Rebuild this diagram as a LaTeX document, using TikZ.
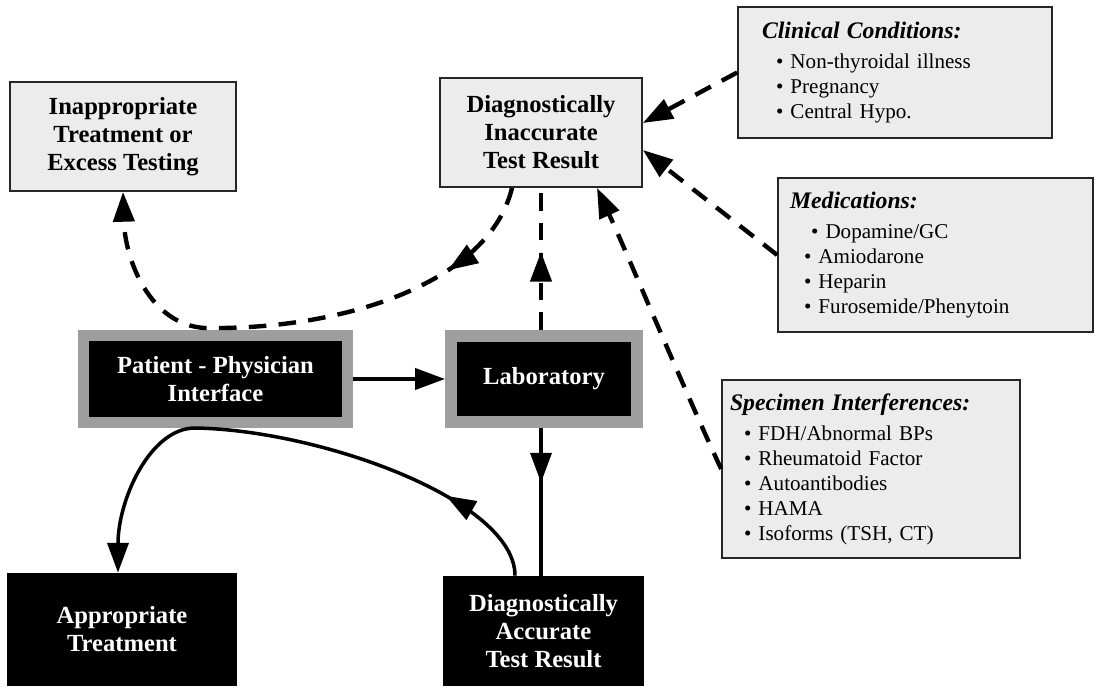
\documentclass[tikz,border=0pt]{standalone}
\usepackage{fontspec}
\setmainfont{Liberation Serif}
\usetikzlibrary{arrows.meta,decorations.markings}

\newcommand\boxhead[1]{{\fontsize{13.5}{15}\selectfont\textbf{\textit{#1}}}}
\newcommand\bulletitem[1]{\hspace*{8pt}\textbullet\ #1}

\begin{document}
\begin{tikzpicture}[
  x=0.02cm, y=-0.02cm,
  >={Triangle[length=17pt,width=12pt]},
  result box/.style={draw=black!85, line width=1pt, fill=gray!15, align=center,
    font=\bfseries\fontsize{14}{16}\selectfont},
  list box/.style={draw=black!85, line width=1pt, fill=gray!15, align=left,
    inner ysep=2pt, font=\fontsize{12}{14.2}\selectfont},
  stage box/.style={fill=black, draw=black!38, text=white, align=center,
    font=\bfseries\fontsize{14}{16}\selectfont},
  outcome box/.style={fill=black, text=white, align=center,
    font=\bfseries\fontsize{14}{16}\selectfont},
  flow/.style={line width=2pt},
  influence/.style={line width=2.5pt, dash pattern=on 10pt off 7pt},
  mid arrow/.style={postaction={decorate, decoration={markings,
    mark=at position #1 with {\arrow[solid]{>}}}}}
]
  \useasboundingbox (0,0) rectangle (1094,686);

  % Test results (upper row) and the factors acting on them
  \node[result box, minimum width=4.52cm, minimum height=2.18cm] (inappr)
    at (123,136.5) {Inappropriate\\Treatment or\\Excess Testing};
  \node[result box, minimum width=4.04cm, minimum height=2.18cm] (inacc)
    at (541,132.5) {Diagnostically\\Inaccurate\\Test Result};

  \node[list box, minimum width=6.28cm, minimum height=2.62cm, text width=5.32cm,
    inner xsep=0.48cm] (clin) at (895,72.5)
    {\boxhead{Clinical Conditions:}\\[3pt]
     \bulletitem{Non-thyroidal illness}\\
     \bulletitem{Pregnancy}\\
     \bulletitem{Central Hypo.}};
  \node[list box, minimum width=6.3cm, minimum height=3.08cm, text width=5.82cm,
    inner xsep=0.24cm] (med) at (935.5,255)
    {\boxhead{Medications:}\\[3pt]
     \hspace*{4pt}\bulletitem{Dopamine/GC}\\
     \bulletitem{Amiodarone}\\
     \bulletitem{Heparin}\\
     \bulletitem{Furosemide/Phenytoin}};
  \node[list box, minimum width=5.96cm, minimum height=3.56cm, text width=5.64cm,
    inner xsep=0.16cm] (spec) at (871,469)
    {\boxhead{Specimen Interferences:}\\[3pt]
     \bulletitem{FDH/Abnormal BPs}\\
     \bulletitem{Rheumatoid Factor}\\
     \bulletitem{Autoantibodies}\\
     \bulletitem{HAMA}\\
     \bulletitem{Isoforms (TSH, CT)}};

  % Main chain
  \node[stage box, line width=0.22cm, minimum width=5.28cm, minimum height=1.74cm]
    (pat) at (215.5,379) {Patient - Physician\\Interface};
  \node[stage box, line width=0.24cm, minimum width=3.72cm, minimum height=1.72cm]
    (lab) at (544,379) {Laboratory};

  \node[outcome box, minimum width=4.6cm, minimum height=2.26cm] (appr)
    at (122,629.5) {Appropriate\\Treatment};
  \node[outcome box, minimum width=4.02cm, minimum height=2.2cm] (acc)
    at (543.5,631) {Diagnostically\\Accurate\\Test Result};

  \draw[flow,->] (pat) -- (lab);
  \draw[flow, mid arrow=0.37] (inacc.south |- lab.south) -- (inacc.south |- acc.north);
  \draw[influence, mid arrow=0.55] (inacc.south |- lab.north) -- (inacc.south);

  \draw[flow, ->, mid arrow=0.2] (acc.north -| 515,0)
    .. controls (515,500) and (320,430) .. (195,428)
    .. controls (150,428) and (118,500) .. (appr.north -| 118,0);
  \draw[influence, ->, mid arrow=0.2] (inacc.south -| 512,0)
    .. controls (490,280) and (350,330) .. (205,328)
    .. controls (150,325) and (125,260) .. (inappr.south);

  % Interfering factors
  \draw[influence,->] (clin.west) -- (inacc.east |- 0,123);
  \draw[influence,->] (med.west) -- (inacc.east |- 0,150);
  \draw[influence,->] (spec.west) .. controls (680,380) and (630,260) .. (inacc.south -| 597,0);
\end{tikzpicture}
\end{document}
